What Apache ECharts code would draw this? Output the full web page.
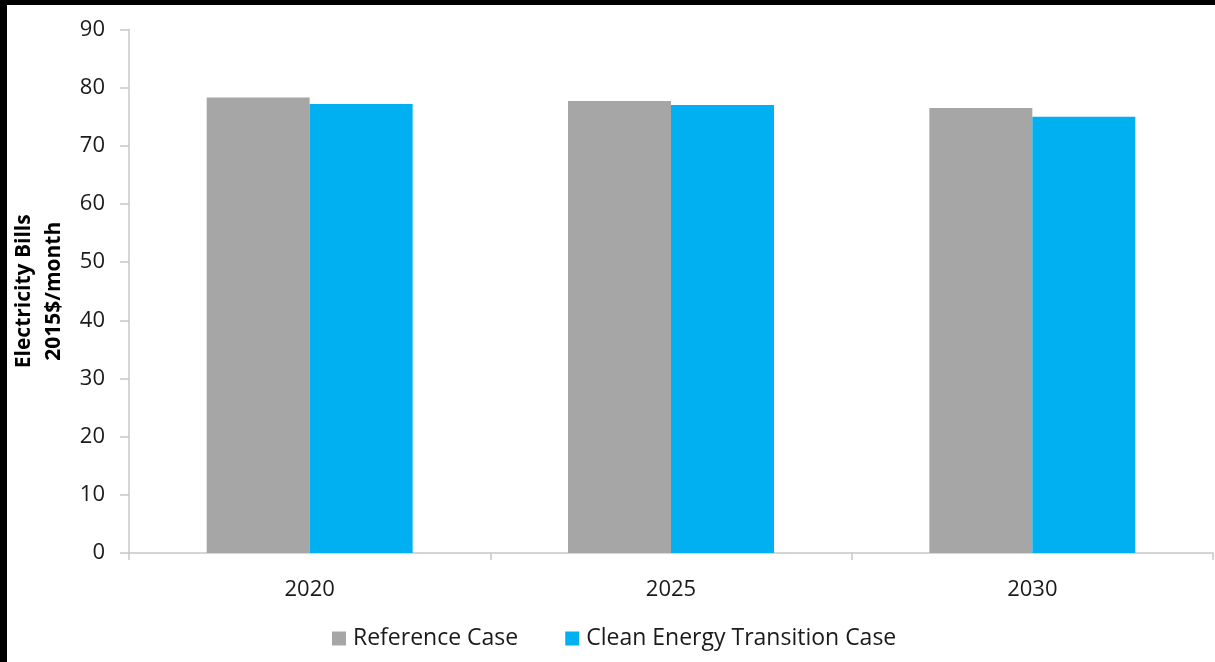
<!DOCTYPE html>
<html>
<head>
<meta charset="utf-8">
<script src="https://cdn.jsdelivr.net/npm/echarts@6/dist/echarts.min.js"></script>
<style>
  html, body { margin: 0; padding: 0; background: #000; }
  #chart { position: absolute; left: 7px; top: 5px; width: 1208px; height: 657px; background: #fff; }
</style>
</head>
<body>
<div id="chart"></div>
<script>
// Monthly residential electricity bills (2015$) by scenario
const years = ['2020', '2025', '2030'];
const referenceCase = [78.3, 77.7, 76.5];
const cleanEnergyCase = [77.2, 77.0, 75.0];
const seriesNames = ['Reference Case', 'Clean Energy Transition Case'];
const yTicks = { min: 0, max: 90, interval: 10 };

const FONT = '"Open Sans", "Noto Sans", sans-serif';
const chart = echarts.init(document.getElementById('chart'), null, { renderer: 'canvas' });

chart.setOption({
  animation: false,
  backgroundColor: '#ffffff',
  textStyle: { fontFamily: FONT },
  grid: { left: 122, top: 24.5, right: 2, bottom: 109, containLabel: false, outerBoundsMode: 'none' },
  legend: {
    data: seriesNames,
    left: 320,
    top: 617,
    itemWidth: 14,
    itemHeight: 14,
    itemGap: 47,
    icon: 'rect',
    textStyle: { fontFamily: FONT, fontSize: 23, color: '#1a1a1a', padding: [0, 0, 0, 2] }
  },
  xAxis: {
    type: 'category',
    data: years,
    axisLine: { lineStyle: { color: '#c8c8c8', width: 1.5 } },
    axisTick: { show: true, length: 7, lineStyle: { color: '#c8c8c8', width: 1.5 } },
    axisLabel: { fontFamily: FONT, fontSize: 22, color: '#1a1a1a', margin: 26 },
    splitLine: { show: false }
  },
  yAxis: {
    type: 'value',
    min: yTicks.min,
    max: yTicks.max,
    interval: yTicks.interval,
    name: 'Electricity Bills\n2015$/month',
    nameLocation: 'middle',
    nameRotate: 90,
    nameGap: 60,
    nameTextStyle: { fontFamily: FONT, fontSize: 21, fontWeight: 'bold', color: '#000', lineHeight: 30 },
    axisLine: { show: true, lineStyle: { color: '#c8c8c8', width: 1.5 } },
    axisTick: { show: true, inside: false, length: 9, lineStyle: { color: '#c8c8c8', width: 1.5 } },
    axisLabel: { fontFamily: FONT, fontSize: 22, color: '#1a1a1a', margin: 24 },
    splitLine: { show: false }
  },
  series: [
    {
      name: seriesNames[0],
      type: 'bar',
      data: referenceCase,
      itemStyle: { color: '#a6a6a6' },
      barGap: '0%',
      barCategoryGap: '43%'
    },
    {
      name: seriesNames[1],
      type: 'bar',
      data: cleanEnergyCase,
      itemStyle: { color: '#00b0f0' }
    }
  ]
});
</script>
</body>
</html>
